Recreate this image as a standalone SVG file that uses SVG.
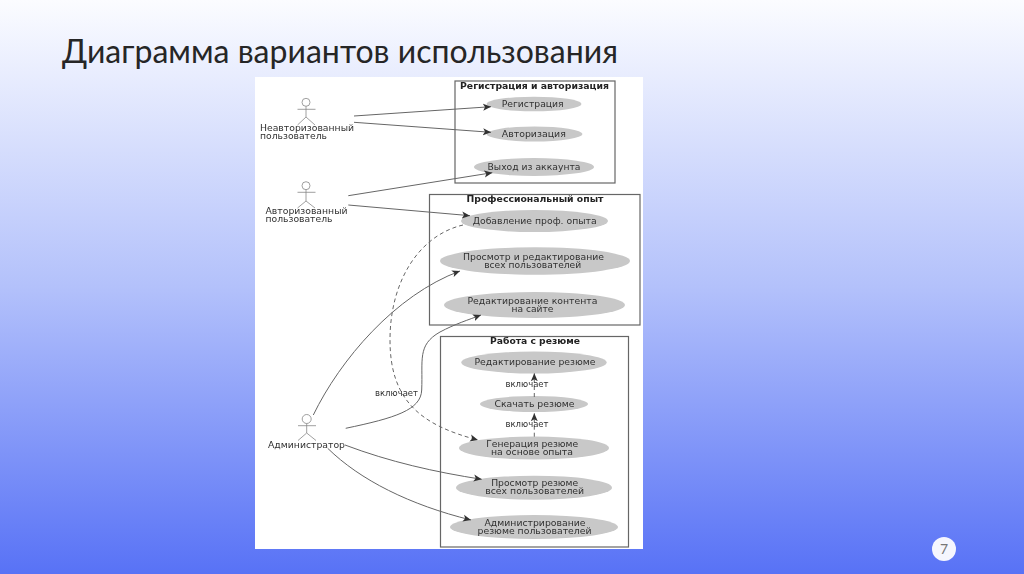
<svg xmlns="http://www.w3.org/2000/svg" width="1024" height="574" viewBox="0 0 1024 574">
<style>
.t{font-family:"DejaVu Sans",sans-serif;font-size:9px;fill:#303030;text-anchor:middle}
.a{font-family:"DejaVu Sans",sans-serif;font-size:9px;fill:#303030}
.b{font-family:"DejaVu Sans",sans-serif;font-size:8.6px;font-weight:bold;fill:#222;text-anchor:middle}
.box{fill:none;stroke:#666;stroke-width:1.2}
.uc{fill:#c8c8c8}
.ac{fill:none;stroke:#888;stroke-width:.8}
.c{fill:none;stroke:#666;stroke-width:1;marker-end:url(#ah)}
.d{stroke-dasharray:4 3}
</style>
<defs>
<linearGradient id="bg" x1="0" y1="0" x2="0" y2="1">
<stop offset="0" stop-color="#fbfcff"/><stop offset=".5" stop-color="#b3c1fb"/><stop offset="1" stop-color="#5872f6"/>
</linearGradient>
<marker id="ah" markerWidth="10" markerHeight="8" refX="8" refY="4" orient="auto" markerUnits="userSpaceOnUse">
<path d="M0 0.5L8 4L0 7.5L2 4Z" fill="#333"/>
</marker>
<filter id="soft" x="-2%" y="-2%" width="104%" height="104%"><feGaussianBlur stdDeviation="0.45"/></filter>
</defs>
<rect width="1024" height="574" fill="url(#bg)"/>
<text x="62" y="63" font-family="Lato,'Open Sans',sans-serif" font-size="32" fill="#262626" textLength="556" lengthAdjust="spacingAndGlyphs">Диаграмма вариантов использования</text>
<rect x="255" y="77" width="388" height="472" fill="#fff"/>
<g filter="url(#soft)">
<g id="pkg-auth"><rect class="box" x="455" y="81" width="160" height="102"/><text class="b" x="534.5" y="89" textLength="149" lengthAdjust="spacingAndGlyphs">Регистрация и авторизация</text></g>
<g id="pkg-exp"><rect class="box" x="429.5" y="194.5" width="210.5" height="130.5"/><text class="b" x="535" y="202" textLength="137" lengthAdjust="spacingAndGlyphs">Профессиональный опыт</text></g>
<g id="pkg-cv"><rect class="box" x="440.5" y="336.5" width="188" height="210.5"/><text class="b" x="535" y="344" textLength="90" lengthAdjust="spacingAndGlyphs">Работа с резюме</text></g>
<g id="uc-reg"><ellipse class="uc" cx="534" cy="104" rx="47.5" ry="7.3"/><text class="t" x="532.7" y="106.7" textLength="62" lengthAdjust="spacingAndGlyphs">Регистрация</text></g>
<g id="uc-login"><ellipse class="uc" cx="534.5" cy="134" rx="48" ry="7.5"/><text class="t" x="533.8" y="137" textLength="64" lengthAdjust="spacingAndGlyphs">Авторизация</text></g>
<g id="uc-logout"><ellipse class="uc" cx="534" cy="167" rx="60" ry="9"/><text class="t" x="534" y="169.5" textLength="93" lengthAdjust="spacingAndGlyphs">Выход из аккаунта</text></g>
<g id="uc-addexp"><ellipse class="uc" cx="534.5" cy="221" rx="73.5" ry="11"/><text class="t" x="534.7" y="223.5" textLength="124" lengthAdjust="spacingAndGlyphs">Добавление проф. опыта</text></g>
<g id="uc-viewedit"><ellipse class="uc" cx="535" cy="261" rx="95" ry="13.7"/><text class="t" x="533.5" y="260" textLength="141" lengthAdjust="spacingAndGlyphs">Просмотр и редактирование</text><text class="t" x="532.7" y="268" textLength="97" lengthAdjust="spacingAndGlyphs">всех пользователей</text></g>
<g id="uc-content"><ellipse class="uc" cx="534.5" cy="305" rx="90.5" ry="13"/><text class="t" x="532.5" y="304" textLength="130" lengthAdjust="spacingAndGlyphs">Редактирование контента</text><text class="t" x="532.5" y="312" textLength="42" lengthAdjust="spacingAndGlyphs">на сайте</text></g>
<g id="uc-editcv"><ellipse class="uc" cx="534" cy="362.5" rx="72.7" ry="11"/><text class="t" x="535" y="364.5" textLength="121" lengthAdjust="spacingAndGlyphs">Редактирование резюме</text></g>
<g id="uc-download"><ellipse class="uc" cx="534" cy="404" rx="54" ry="8"/><text class="t" x="534.5" y="406.5" textLength="80" lengthAdjust="spacingAndGlyphs">Скачать резюме</text></g>
<g id="uc-generate"><ellipse class="uc" cx="534" cy="448" rx="75" ry="11.5"/><text class="t" x="532.2" y="446.5" textLength="92" lengthAdjust="spacingAndGlyphs">Генерация резюме</text><text class="t" x="532" y="454.5" textLength="82" lengthAdjust="spacingAndGlyphs">на основе опыта</text></g>
<g id="uc-viewcv"><ellipse class="uc" cx="534" cy="487.7" rx="78" ry="12"/><text class="t" x="534.7" y="486" textLength="87" lengthAdjust="spacingAndGlyphs">Просмотр резюме</text><text class="t" x="534.7" y="494" textLength="99" lengthAdjust="spacingAndGlyphs">всех пользователей</text></g>
<g id="uc-admincv"><ellipse class="uc" cx="534" cy="527" rx="84" ry="12"/><text class="t" x="535" y="525.5" textLength="101" lengthAdjust="spacingAndGlyphs">Администрирование</text><text class="t" x="534.5" y="533.5" textLength="114" lengthAdjust="spacingAndGlyphs">резюме пользователей</text></g>
<g id="actor-guest"><circle class="ac" cx="306" cy="102.3" r="4"/><path class="ac" d="M306 106.3V117M297.5 109.3H315.5M306 117L297.5 125M306 117L315 125"/><text class="a" x="260" y="131" textLength="94" lengthAdjust="spacingAndGlyphs">Неавторизованный</text><text class="a" x="260" y="139" textLength="67" lengthAdjust="spacingAndGlyphs">пользователь</text></g>
<g id="actor-user"><circle class="ac" cx="306" cy="185.7" r="4"/><path class="ac" d="M306 189.7V201M297.5 192.3H315.5M306 201L297.5 208M306 201L315 208"/><text class="a" x="265.5" y="214" textLength="82" lengthAdjust="spacingAndGlyphs">Авторизованный</text><text class="a" x="265.5" y="222" textLength="67" lengthAdjust="spacingAndGlyphs">пользователь</text></g>
<g id="actor-admin"><circle class="ac" cx="306.7" cy="419" r="4.5"/><path class="ac" d="M306.7 423.5V433M298 425.7H316M306.7 433L298 440.5M306.7 433L316 440.5"/><text class="a" x="268" y="447.7" textLength="77" lengthAdjust="spacingAndGlyphs">Администратор</text></g>
<g id="connectors">
<path class="c" d="M354 116L491 106.7"/>
<path class="c" d="M354 122.3L491 132.3"/>
<path class="c" d="M348.3 195.7L492.3 172.7"/>
<path class="c" d="M348.3 205L470 215.7"/>
<path class="c" d="M313.3 415C340 360 395 295 460 271"/>
<path class="c" d="M345.7 428.3C395 418 421 410 421.7 390C423 360 417 345 440 332C455 324 468 320 481 315"/>
<path class="c d" d="M463 225C420 235 390 280 390 340C390 400 420 425 478 440"/>
<path class="c" d="M345 445C390 462 435 472 481.7 479.3"/>
<path class="c" d="M327.7 448.3C360 480 410 505 471 520"/>
<path class="c d" d="M534.3 436.7V413.3"/>
<path class="c d" d="M534.3 397V373.3"/>
<text class="t" x="396.5" y="395.5" textLength="43" lengthAdjust="spacingAndGlyphs">включает</text>
<text class="t" x="527" y="427" textLength="43" lengthAdjust="spacingAndGlyphs">включает</text>
<text class="t" x="527" y="387" textLength="43" lengthAdjust="spacingAndGlyphs">включает</text>
</g>
</g>
<g id="page"><circle cx="944" cy="549" r="12" fill="#f5f6fe"/><text x="944" y="554" text-anchor="middle" font-family="Lato,sans-serif" font-size="14" fill="#777">7</text></g>
</svg>
